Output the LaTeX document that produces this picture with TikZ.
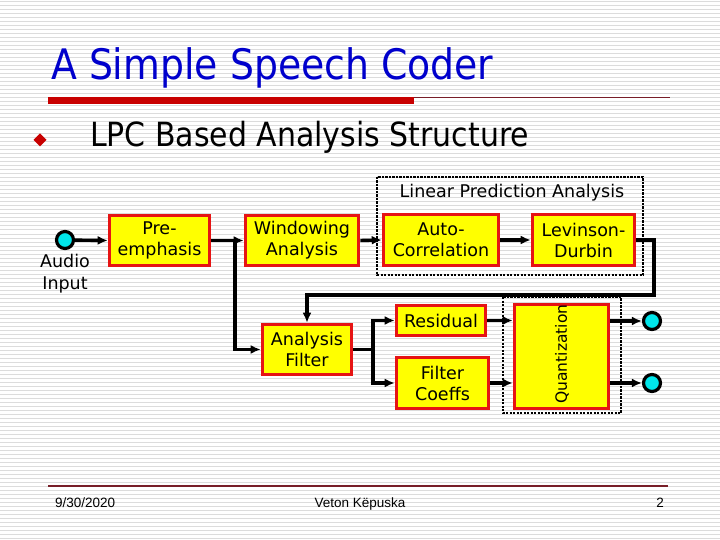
\documentclass[tikz,border=0pt]{standalone}
\usepackage{fontspec}
\setmainfont{Liberation Sans}
\newfontfamily\titlefont{DejaVu Sans Condensed}
\newfontfamily\boxfont{DejaVu Sans}
\usetikzlibrary{arrows.meta}
\definecolor{boxyellow}{RGB}{255,255,0}
\definecolor{boxred}{RGB}{230,20,20}
\definecolor{titleblue}{RGB}{0,0,204}
\definecolor{barred}{RGB}{200,0,0}
\definecolor{linemaroon}{RGB}{120,30,40}
\definecolor{dotcyan}{RGB}{0,230,235}
\definecolor{stripegray}{RGB}{220,220,220}
\tikzset{
  blk/.style={draw=boxred, fill=boxyellow, line width=3.6pt, align=center, inner sep=0pt,
    font=\boxfont\fontsize{17.5}{21}\selectfont},
  conn/.style={line width=3.4pt, black},
  arr/.style={conn, -{Latex[length=10pt,width=9pt]}},
  dotbox/.style={draw=black, line width=2.6pt, dash pattern=on 2.2pt off 1.3pt},
  port/.style={circle, draw=black, fill=dotcyan, line width=3.2pt, minimum size=17pt, inner sep=0pt},
  stripe/.style={stripegray, line width=1pt}
}
\begin{document}
\begin{tikzpicture}[x=1pt,y=-1pt]
\useasboundingbox (0,0) rectangle (720,540);
\fill[white] (0,0) rectangle (720,540);
\foreach \yy in {2,6,...,538} \draw[stripe] (0,\yy) -- (720,\yy);
% title
\node[anchor=base west, inner sep=0pt, text=titleblue, font=\titlefont\fontsize{42}{50}\selectfont] (title) at (51,80) {A Simple Speech Coder};
\fill[barred] (48,97) rectangle (414,104);
\draw[linemaroon, line width=1.4pt] (414,97.7) -- (670,97.7);
% bullet
\fill[barred] (40,133.5) -- (46.5,140) -- (40,146.5) -- (33.5,140) -- cycle;
\node[anchor=base west, inner sep=0pt, font=\titlefont\fontsize{33.3}{40}\selectfont] (sub) at (90,147) {LPC Based Analysis Structure};
% dotted groups
\draw[dotbox] (377,177) rectangle (643,275);
\node[font=\boxfont\fontsize{17.5}{21}\selectfont, inner sep=0pt] (lpa) at (512,193) {Linear Prediction Analysis};
\draw[dotbox] (503,297) rectangle (621,413);
% blocks
\node[blk, minimum width=100pt, minimum height=50pt] (pre) at (159.5,240.5) {Pre-\\emphasis};
\node[blk, minimum width=113pt, minimum height=50pt] (win) at (302,240.5) {Windowing\\Analysis};
\node[blk, minimum width=115pt, minimum height=51pt] (auto) at (441,240) {Auto-\\Correlation};
\node[blk, minimum width=102pt, minimum height=51pt] (lev) at (583.5,240) {Levinson-\\Durbin};
\node[blk, minimum width=89pt, minimum height=50pt] (af) at (307,349.5) {Analysis\\Filter};
\node[blk, minimum width=89pt, minimum height=30pt] (res) at (441,320.5) {Residual};
\node[blk, minimum width=92pt, minimum height=51pt] (fc) at (442.5,383) {Filter\\Coeffs};
\node[blk, minimum width=94pt, minimum height=104pt] (quant) at (561.5,356.5) {};
\node[rotate=90, inner sep=0pt, font=\boxfont\fontsize{15.5}{18}\selectfont] (qlabel) at (562,354) {Quantization};
% ports
\node[port] (ain) at (65,240) {};
\node[font=\boxfont\fontsize{17.5}{22}\selectfont, align=center, inner sep=0pt] (ainl) at (65,274) {Audio\\Input};
\node[port] (out1) at (652,321) {};
\node[port] (out2) at (652,383) {};
% connectors
\coordinate (j1) at (235,240.5);
\coordinate (j2) at (373,349.5);
\coordinate (c1) at (654,240);
\coordinate (c2) at (654,295);
\coordinate (c3) at (307,295);
\draw[arr] (ain) -- (pre.west);
\draw[arr] (pre.east) -- (win.west);
\draw[arr] (j1) -- (j1 |- af.west) -- (af.west);
\draw[arr] (win.east) -- (auto.west);
\draw[arr] (auto.east) -- (lev.west);
\draw[arr] (lev.east) -- (c1) -- (c2) -- (c3) -- (af.north);
\draw[conn] (af.east) -- (j2);
\draw[arr] (j2) -- (j2 |- res.west) -- (res.west);
\draw[arr] (j2) -- (j2 |- fc.west) -- (fc.west);
\draw[arr] (res.east) -- (res.east -| quant.west);
\draw[arr] (fc.east) -- (fc.east -| quant.west);
\draw[arr] (out1 -| quant.east) -- (out1);
\draw[arr] (out2 -| quant.east) -- (out2);
% footer
\draw[linemaroon, line width=1.4pt] (48,486) -- (668,486);
\node[anchor=base west, inner sep=0pt, font=\fontsize{13.5}{16}\selectfont] (date) at (55,507) {9/30/2020};
\node[anchor=base, inner sep=0pt, font=\fontsize{13.5}{16}\selectfont] (author) at (360,507) {Veton Këpuska};
\node[anchor=base, inner sep=0pt, font=\fontsize{13.5}{16}\selectfont] (page) at (660,507) {2};
\end{tikzpicture}
\end{document}
